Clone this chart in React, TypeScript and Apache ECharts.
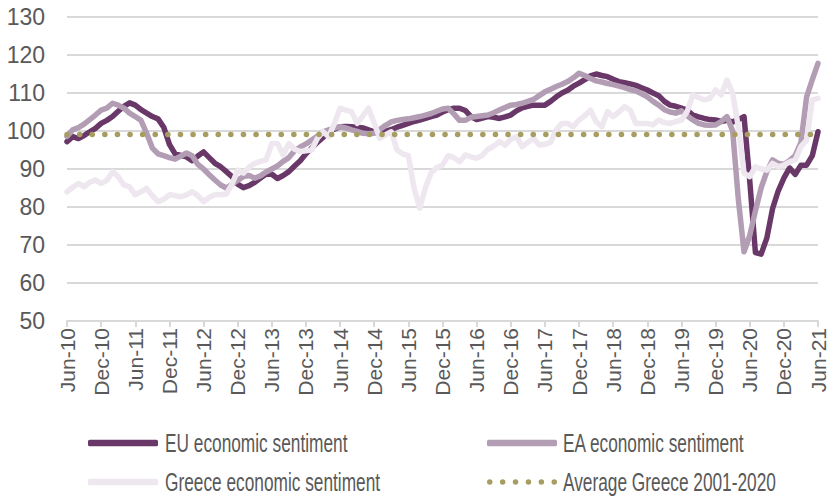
import React, { useEffect, useRef } from "react";
import * as echarts from "echarts";

const MONTHS = ["Jan", "Feb", "Mar", "Apr", "May", "Jun", "Jul", "Aug", "Sep", "Oct", "Nov", "Dec"];

// Monthly categories Jun-10 .. Jun-21
const categories: string[] = [];
for (let y = 2010, m = 5; y < 2021 || (y === 2021 && m <= 5); ) {
  categories.push(`${MONTHS[m]}-${String(y).slice(2)}`);
  m++;
  if (m === 12) { m = 0; y++; }
}

const euSentiment = [
  97.2, 98.5, 98.0, 98.8, 99.8, 100.7, 102.0, 102.8, 103.8, 105.2, 106.5, 107.4,
  106.8, 105.6, 104.7, 103.8, 103.2, 101.0, 96.5, 94.0, 93.6, 93.2, 92.2, 93.4,
  94.5, 93.0, 91.5, 90.6, 89.3, 88.0, 86.0, 85.1, 85.6, 86.5, 87.6, 88.7,
  88.6, 87.5, 88.3, 89.3, 90.8, 92.2, 94.0, 95.5, 97.0, 98.3, 99.8, 100.5,
  101.1, 101.2, 101.1, 101.0, 100.8, 100.3, 99.8, 99.2, 99.9, 100.4, 101.0, 101.5,
  102.0, 102.5, 102.9, 103.3, 103.8, 104.2, 105.0, 105.6, 106.0, 106.0, 105.4, 103.8,
  103.0, 103.4, 103.8, 103.6, 103.3, 103.7, 104.2, 105.3, 106.1, 106.5, 106.8, 106.8,
  106.8, 107.8, 109.0, 110.0, 110.7, 111.8, 112.6, 113.5, 114.5, 115.0, 114.6, 114.3,
  113.6, 113.0, 112.7, 112.4, 112.0, 111.4, 110.8, 110.0, 109.3, 107.8, 106.8, 106.5,
  106.0, 105.5, 104.2, 103.7, 103.3, 103.0, 102.9, 102.5, 102.8, 102.4, 103.0, 103.8,
  87.0, 68.0, 67.6, 71.8, 79.5, 84.2, 87.6, 90.3, 88.6, 91.0, 91.0, 93.5,
  99.8,
];

const eaSentiment = [
  98.6, 100.3, 100.9, 101.8, 103.0, 104.2, 105.5, 106.0, 107.3, 106.8, 106.0, 104.7,
  103.8, 102.8, 99.4, 95.5, 94.0, 93.5, 93.0, 92.6, 93.4, 94.2, 93.5, 91.2,
  90.0, 88.5, 87.1, 85.8, 85.0, 86.0, 87.0, 88.0, 88.3, 87.6, 88.2, 89.2,
  90.0, 90.8, 92.0, 93.0, 94.8, 95.8, 96.6, 97.6, 98.6, 99.8, 100.3, 100.8,
  101.1, 100.8, 100.3, 99.9, 99.4, 99.3, 99.4, 100.4, 101.5, 102.4, 102.8, 103.0,
  103.2, 103.5, 103.8, 104.2, 104.6, 105.2, 105.8, 106.0, 104.5, 102.8, 102.8, 103.6,
  103.8, 104.0, 104.2, 104.8, 105.5, 106.2, 106.8, 107.0, 107.3, 107.8, 108.3, 109.3,
  110.3, 111.0, 111.7, 112.3, 113.0, 114.0, 115.2, 114.6, 113.8, 113.2, 112.9, 112.5,
  112.2, 111.8, 111.4, 110.9, 110.5, 109.8, 109.0, 107.8, 106.8, 105.6, 105.0, 104.7,
  105.3, 104.0, 102.9, 102.0, 101.6, 101.5, 101.6, 102.5, 103.8, 100.0, 82.0, 68.2,
  72.5, 79.0, 85.0, 89.3, 92.4, 91.5, 91.2, 92.2, 93.5, 97.0, 109.0, 113.5,
  117.8,
];

const greeceSentiment = [
  84.0, 85.2, 86.2, 85.3, 86.5, 87.1, 86.2, 87.0, 89.3, 88.0, 85.8, 85.3,
  83.2, 84.0, 84.9, 83.0, 81.4, 82.0, 83.2, 83.0, 82.7, 83.2, 84.0, 83.0,
  81.4, 82.5, 83.2, 83.2, 83.4, 86.0, 89.7, 88.9, 90.5, 91.5, 92.0, 92.4,
  96.7, 96.7, 93.7, 96.7, 95.2, 94.6, 94.8, 95.0, 98.0, 99.8, 98.5, 102.0,
  106.0, 105.5, 105.1, 102.0, 104.0, 106.0, 102.0, 98.1, 99.0, 99.8, 95.0, 94.0,
  93.5, 85.0, 79.7, 85.0, 89.0, 90.4, 91.0, 93.5, 93.0, 91.9, 93.7, 93.2,
  92.8, 93.6, 95.2, 96.0, 97.2, 96.3, 97.8, 98.5, 95.9, 97.0, 98.1, 96.3,
  96.5, 97.0, 100.3, 102.0, 102.0, 101.1, 102.9, 104.0, 105.5, 102.5, 101.1, 105.1,
  103.8, 105.0, 106.4, 105.5, 102.0, 102.0, 102.0, 101.6, 102.9, 102.2, 102.0, 102.5,
  102.9, 105.1, 109.5, 108.8, 108.2, 108.6, 110.8, 109.5, 113.4, 109.9, 101.0, 88.9,
  88.0, 90.6, 90.0, 89.7, 91.5, 90.6, 91.0, 91.9, 92.4, 95.9, 97.6, 108.2,
  108.6,
];

const greeceAverage2001_2020 = 99.1;
const averageLine = categories.map(() => greeceAverage2001_2020);

const seriesNames = [
  "EU economic sentiment",
  "EA economic sentiment",
  "Greece economic sentiment",
  "Average Greece 2001-2020",
];

const colors = ["#693868", "#b39db4", "#eee7ef", "#a89d61"];

const yTicks = { min: 50, max: 130, interval: 10 };

// six dots for the dotted legend sample
const dotsIcon =
  "path://" +
  [2.75, 15.65, 28.55, 41.45, 54.35, 67.25]
    .map((c) => `M${c - 2.75},2.75a2.75,2.75 0 1,0 5.5,0a2.75,2.75 0 1,0 -5.5,0Z`)
    .join(" ");

export default function App() {
  const ref = useRef<HTMLDivElement>(null);

  useEffect(() => {
    if (!ref.current) return;
    const chart = echarts.init(ref.current, undefined, { renderer: "svg" });

    const legendPos = [
      { left: 88, cy: 443, tx: 165 },
      { left: 487, cy: 443, tx: 563 },
      { left: 88, cy: 482, tx: 165 },
      { left: 487, cy: 482, tx: 563 },
    ];

    const legends = seriesNames.map((name, i) => {
      const isDots = i === 3;
      const h = isDots ? 5.5 : 6.5;
      return {
        data: [{ name, icon: isDots ? dotsIcon : "roundRect" }],
        left: legendPos[i].left,
        top: legendPos[i].cy - h / 2,
        padding: 0,
        itemWidth: 70,
        itemHeight: h,
        formatter: () => "",
        textStyle: { fontSize: 1 },
      };
    });

    const legendTexts = seriesNames.map((name, i) => ({
      type: "text",
      x: legendPos[i].tx,
      y: legendPos[i].cy,
      scaleX: 0.665,
      silent: true,
      style: {
        text: name,
        fontFamily: "'Liberation Sans', Arial, sans-serif",
        fontSize: 26,
        fill: "#595959",
        textVerticalAlign: "middle",
        textAlign: "left",
      },
    }));

    chart.setOption({
      animation: false,
      backgroundColor: "#ffffff",
      grid: { left: 67, right: 11, top: 17, bottom: 176, containLabel: false },
      xAxis: {
        type: "category",
        data: categories,
        boundaryGap: false,
        axisLine: { show: true, lineStyle: { color: "#d9d9d9", width: 2 } },
        axisTick: {
          show: true,
          interval: (i: number) => i % 6 === 0,
          length: 6,
          lineStyle: { color: "#d9d9d9", width: 2 },
        },
        axisLabel: {
          interval: (i: number) => i % 6 === 0,
          rotate: 90,
          margin: 7,
          fontFamily: "'Liberation Sans', Arial, sans-serif",
          fontSize: 21,
          color: "#595959",
        },
        splitLine: { show: false },
      },
      yAxis: {
        type: "value",
        min: yTicks.min,
        max: yTicks.max,
        interval: yTicks.interval,
        axisLine: { show: false },
        axisTick: { show: false },
        axisLabel: {
          margin: 22,
          fontFamily: "'Liberation Sans', Arial, sans-serif",
          fontSize: 23,
          color: "#595959",
        },
        splitLine: { show: true, lineStyle: { color: "#d9d9d9", width: 2 } },
      },
      legend: legends,
      graphic: legendTexts,
      series: [
        {
          name: seriesNames[0],
          type: "line",
          data: euSentiment,
          showSymbol: false,
          symbol: "none",
          color: colors[0],
          lineStyle: { color: colors[0], width: 5.5, join: "round", cap: "round" },
        },
        {
          name: seriesNames[1],
          type: "line",
          data: eaSentiment,
          showSymbol: false,
          symbol: "none",
          color: colors[1],
          lineStyle: { color: colors[1], width: 5.5, join: "round", cap: "round" },
        },
        {
          name: seriesNames[2],
          type: "line",
          data: greeceSentiment,
          showSymbol: false,
          symbol: "none",
          color: colors[2],
          lineStyle: { color: colors[2], width: 5.5, join: "round", cap: "round" },
        },
        {
          name: seriesNames[3],
          type: "line",
          data: averageLine,
          showSymbol: false,
          symbol: "none",
          color: colors[3],
          lineStyle: { color: colors[3], width: 5.5, type: [0.1, 12.5], cap: "round" },
        },
      ],
    });
    return () => chart.dispose();
  }, []);

  return (
    <div
      ref={ref}
      style={{ position: "fixed", left: 0, top: 0, width: 829, height: 497, background: "#fff" }}
    />
  );
}
